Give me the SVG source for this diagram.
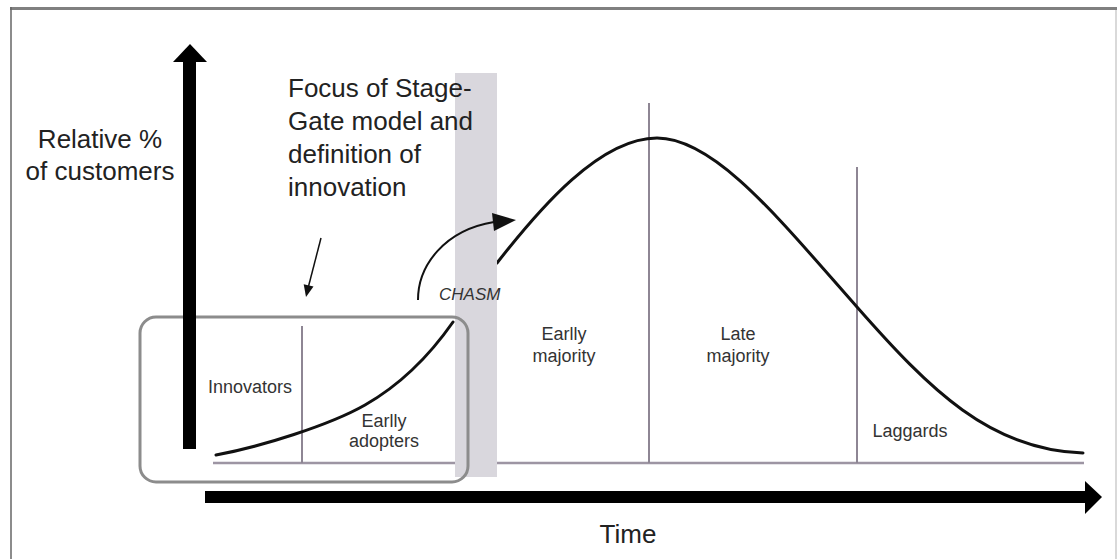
<svg xmlns="http://www.w3.org/2000/svg" width="1117" height="559" viewBox="0 0 1117 559">
<style>
.big{font-family:"Liberation Sans",Arial,sans-serif;font-size:26px;fill:#222}
.lbl{font-family:"Liberation Sans",Arial,sans-serif;font-size:18px;fill:#333;text-anchor:middle}
.chasm{font-family:"Liberation Sans",Arial,sans-serif;font-size:17px;font-style:italic;fill:#333}
.div{stroke:#8e8694;stroke-width:2;fill:none}
.curve{stroke:#111;stroke-width:3;fill:none;stroke-linecap:round}
</style>
<rect x="0" y="0" width="1117" height="559" fill="#fff"/>
<g id="frame">
<line x1="10" y1="8.5" x2="1117" y2="8.5" stroke="#808080" stroke-width="3"/>
<line x1="11" y1="7" x2="11" y2="559" stroke="#666" stroke-width="1.5"/>
<line x1="1116" y1="10" x2="1116" y2="559" stroke="#ccc" stroke-width="1.5"/>
</g>
<g id="chart">
<line x1="213" y1="463" x2="1084" y2="463" stroke="#9d95a3" stroke-width="2.5"/>
<line class="div" x1="302" y1="326" x2="302" y2="463"/>
<line class="div" x1="649" y1="103" x2="649" y2="463"/>
<line class="div" x1="857" y1="167" x2="857" y2="463"/>
<path class="curve" d="M216,455 C260,447 330,425 365,405 S430,355 453,322"/>
<path class="curve" d="M497,263 C540,208 600,138 657,138 C715,138 780,220 857,307 C930,390 990,450 1083,453"/>
</g>
<g id="chasm-band">
<rect x="455" y="73" width="42" height="404" fill="#d9d7dd"/>
</g>
<g id="focus-box">
<rect x="140" y="317" width="328" height="165" rx="16" ry="16" fill="none" stroke="#8c8c8c" stroke-width="3"/>
</g>
<g id="connectors">
<path d="M418,300 C418,265 445,230 494,222" fill="none" stroke="#111" stroke-width="2"/>
<polygon points="492,213 516,220 494,231" fill="#111"/>
<line x1="321" y1="238" x2="308.6" y2="286" stroke="#111" stroke-width="1.5"/>
<polygon points="306,297 313.5,286.4 303.7,284.2" fill="#111"/>
</g>
<g id="y-axis">
<rect x="183" y="61" width="13" height="388" fill="#000"/>
<polygon points="190,44 207,62 173,62" fill="#000"/>
</g>
<g id="x-axis">
<rect x="205" y="491" width="881" height="12" fill="#000"/>
<polygon points="1085,481 1102,497 1085,514" fill="#000"/>
</g>
<g id="y-label">
<text class="big" x="100" y="148" text-anchor="middle">Relative %</text>
<text class="big" x="100" y="180" text-anchor="middle">of customers</text>
</g>
<g id="focus-label">
<text class="big" x="288" y="97">Focus of Stage-</text>
<text class="big" x="288" y="130">Gate model and</text>
<text class="big" x="288" y="163">definition of</text>
<text class="big" x="288" y="196">innovation</text>
</g>
<g id="chasm-label"><text class="chasm" x="439" y="300">CHASM</text></g>
<g id="innovators"><text class="lbl" x="250" y="393">Innovators</text></g>
<g id="early-adopters">
<text class="lbl" x="384" y="427">Earlly</text>
<text class="lbl" x="384" y="447">adopters</text>
</g>
<g id="early-majority">
<text class="lbl" x="564" y="340">Earlly</text>
<text class="lbl" x="564" y="362">majority</text>
</g>
<g id="late-majority">
<text class="lbl" x="738" y="340">Late</text>
<text class="lbl" x="738" y="362">majority</text>
</g>
<g id="laggards"><text class="lbl" x="910" y="437">Laggards</text></g>
<g id="time-label"><text class="big" x="628" y="543" text-anchor="middle">Time</text></g>
</svg>
